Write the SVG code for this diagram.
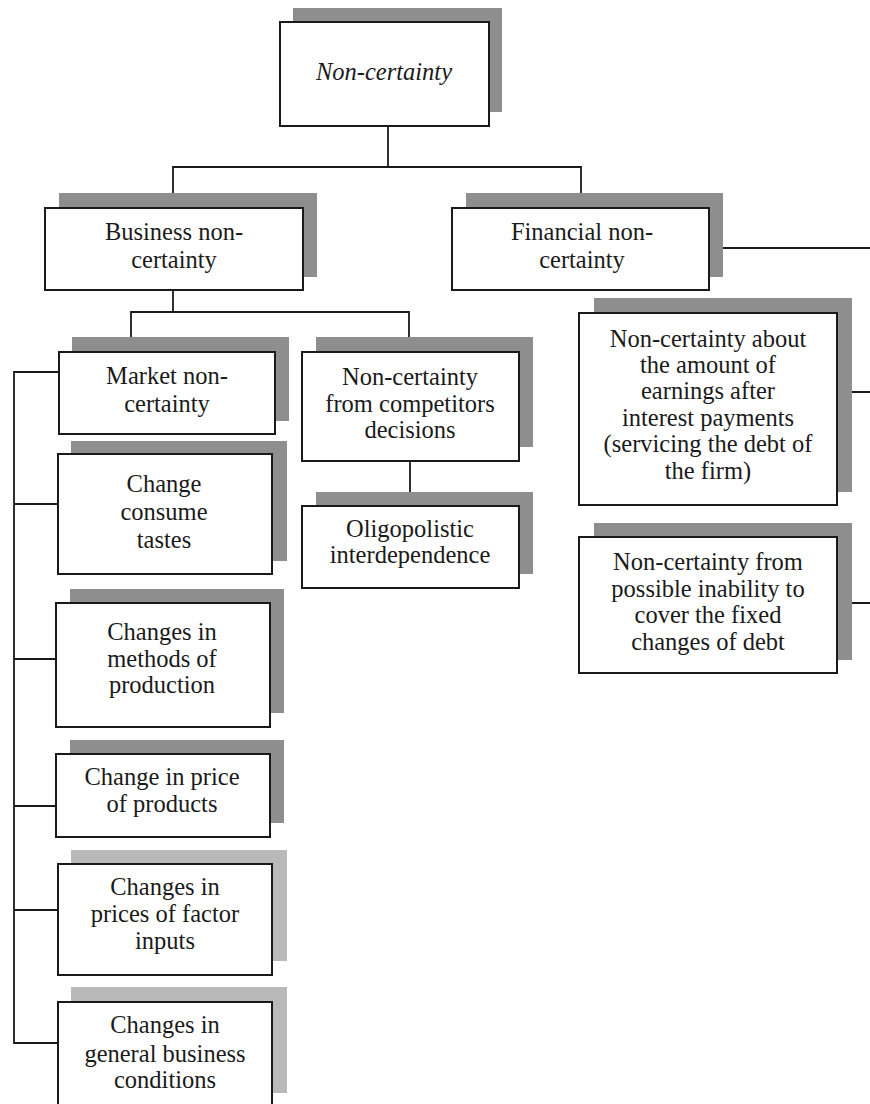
<svg xmlns="http://www.w3.org/2000/svg" width="870" height="1104" viewBox="0 0 870 1104">
<style>
.sh{fill:#8e8e8e}
.shl{fill:#b9b9b9}
.bx{fill:#fff;stroke:#1a1a1a;stroke-width:2}
.t{font-family:"Liberation Serif","Times New Roman",serif;font-size:24.5px;fill:#1a1a1a;text-anchor:middle}
.it{font-style:italic}
.c{fill:none;stroke:#1a1a1a;stroke-width:1.8}
</style>
<rect width="870" height="1104" fill="#fff"/>
<g id="connectors">
<polyline class="c" points="388,126 388,167"/>
<polyline class="c" points="173,208 173,167 581,167 581,208"/>
<polyline class="c" points="709,248 870,248"/>
<polyline class="c" points="173,290 173,312"/>
<polyline class="c" points="131,352 131,312 409,312 409,352"/>
<polyline class="c" points="410,461 410,506"/>
<polyline class="c" points="59,372 14,372 14,1043 58,1043"/>
<polyline class="c" points="14,504 58,504"/>
<polyline class="c" points="14,659 56,659"/>
<polyline class="c" points="14,806 56,806"/>
<polyline class="c" points="14,910 58,910"/>
<polyline class="c" points="837,392 870,392"/>
<polyline class="c" points="837,603 870,603"/>
</g>
<g id="n-root">
<rect class="sh" x="293" y="8" width="209" height="104"/>
<rect class="bx" x="280" y="22" width="209" height="104"/>
<text class="t it" x="384" y="80">Non-certainty</text>
</g>
<g id="n-business">
<rect class="sh" x="59" y="193" width="258" height="84"/>
<rect class="bx" x="45" y="208" width="258" height="82"/>
<text class="t" x="174" y="240">Business non-</text>
<text class="t" x="174" y="268">certainty</text>
</g>
<g id="n-financial">
<rect class="sh" x="466" y="193" width="257" height="84"/>
<rect class="bx" x="452" y="208" width="257" height="82"/>
<text class="t" x="582" y="240">Financial non-</text>
<text class="t" x="582" y="268">certainty</text>
</g>
<g id="n-market">
<rect class="sh" x="72" y="337" width="217" height="84"/>
<rect class="bx" x="59" y="352" width="216" height="82"/>
<text class="t" x="167" y="384">Market non-</text>
<text class="t" x="167" y="412">certainty</text>
</g>
<g id="n-competitors">
<rect class="sh" x="316" y="337" width="217" height="110"/>
<rect class="bx" x="302" y="352" width="217" height="109"/>
<text class="t" x="410" y="385">Non-certainty</text>
<text class="t" x="410" y="412">from competitors</text>
<text class="t" x="410" y="438">decisions</text>
</g>
<g id="n-oligopolistic">
<rect class="sh" x="316" y="492" width="217" height="82"/>
<rect class="bx" x="302" y="506" width="217" height="82"/>
<text class="t" x="410" y="537">Oligopolistic</text>
<text class="t" x="410" y="563">interdependence</text>
</g>
<g id="n-tastes">
<rect class="sh" x="71" y="441" width="216" height="120"/>
<rect class="bx" x="58" y="454" width="214" height="120"/>
<text class="t" x="164" y="492">Change</text>
<text class="t" x="164" y="520">consume</text>
<text class="t" x="164" y="548">tastes</text>
</g>
<g id="n-methods">
<rect class="sh" x="70" y="589" width="214" height="124"/>
<rect class="bx" x="56" y="603" width="214" height="124"/>
<text class="t" x="162" y="640">Changes in</text>
<text class="t" x="162" y="667">methods of</text>
<text class="t" x="162" y="693">production</text>
</g>
<g id="n-price">
<rect class="sh" x="70" y="740" width="214" height="83"/>
<rect class="bx" x="56" y="754" width="214" height="83"/>
<text class="t" x="162" y="785">Change in price</text>
<text class="t" x="162" y="812">of products</text>
</g>
<g id="n-factor">
<rect class="shl" x="71" y="850" width="216" height="111"/>
<rect class="bx" x="58" y="864" width="214" height="111"/>
<text class="t" x="165" y="895">Changes in</text>
<text class="t" x="165" y="922">prices of factor</text>
<text class="t" x="165" y="949">inputs</text>
</g>
<g id="n-general">
<rect class="shl" x="71" y="987" width="216" height="106"/>
<rect class="bx" x="58" y="1002" width="214" height="110"/>
<text class="t" x="165" y="1033">Changes in</text>
<text class="t" x="165" y="1062">general business</text>
<text class="t" x="165" y="1088">conditions</text>
</g>
<g id="n-earnings">
<rect class="sh" x="594" y="298" width="258" height="194"/>
<rect class="bx" x="579" y="313" width="258" height="192"/>
<text class="t" x="708" y="347">Non-certainty about</text>
<text class="t" x="708" y="373">the amount of</text>
<text class="t" x="708" y="399">earnings  after</text>
<text class="t" x="708" y="426">interest payments</text>
<text class="t" x="708" y="452">(servicing the debt of</text>
<text class="t" x="708" y="479">the firm)</text>
</g>
<g id="n-inability">
<rect class="sh" x="594" y="523" width="258" height="137"/>
<rect class="bx" x="579" y="537" width="258" height="136"/>
<text class="t" x="708" y="570">Non-certainty from</text>
<text class="t" x="708" y="597">possible inability to</text>
<text class="t" x="708" y="623">cover the fixed</text>
<text class="t" x="708" y="650">changes of debt</text>
</g>
</svg>
